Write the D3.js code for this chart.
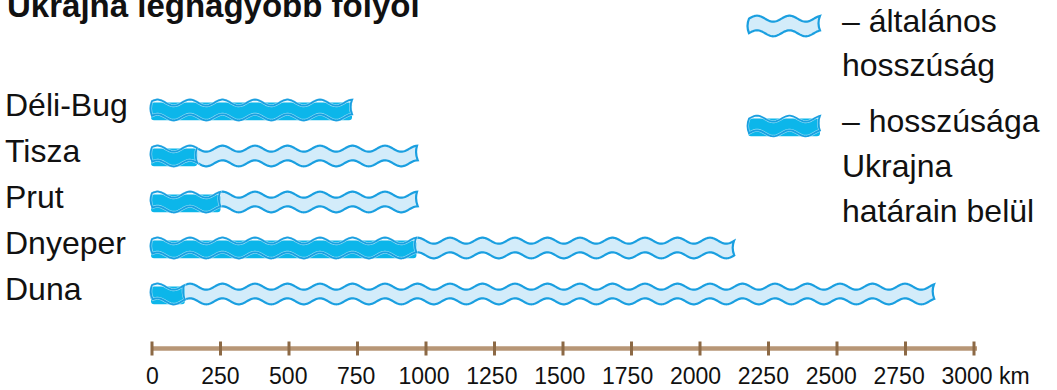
<!DOCTYPE html>
<html><head><meta charset="utf-8">
<script src="https://cdn.jsdelivr.net/npm/d3@7"></script>
<style>
body{margin:0;background:#fff;}
text{font-family:"Liberation Sans",Arial,sans-serif;fill:#111;}
</style></head>
<body>
<svg id="c" width="1057" height="390"></svg>
<script>
const title = "Ukrajna legnagyobb folyói";
const rivers = ["Déli-Bug", "Tisza", "Prut", "Dnyeper", "Duna"];
const totalKm = [730, 970, 970, 2125, 2855];
const ukraineKm = [730, 165, 250, 965, 120];
const tickValues = [0, 250, 500, 750, 1000, 1250, 1500, 1750, 2000, 2250, 2500, 2750, 3000];
const unitLabel = "km";
const legendTotal = ["– általános", "hosszúság"];
const legendUkraine = ["– hosszúsága", "Ukrajna", "határain belül"];

const LIGHT = "#d3ecfa", DARK = "#0cb6ea", LINE = "#1a9fe0";
const svg = d3.select("#c");

const x = d3.scaleLinear().domain([0, 3000]).range([152, 974]);
const xl = d3.scaleLinear().domain([0, 3000]).range([152.5, 967]);
const y = d3.scalePoint().domain(rivers).range([110, 294]);

const H = 7.3, A = 3, P = 32.5;

function topY(px, c, crest) { return c - H - A * Math.cos(2 * Math.PI * (px - crest) / P); }
function botY(px, c, crest) { return c + H - A * Math.cos(2 * Math.PI * (px - crest) / P); }

function ribbon(x0, x1, c, crest) {
  const p = d3.path();
  p.moveTo(x0, topY(x0, c, crest));
  for (let px = x0 + 1; px <= x1; px += 1) p.lineTo(px, topY(px, c, crest));
  const tr = topY(x1, c, crest), br = botY(x1, c, crest);
  p.quadraticCurveTo(x1 - 3, (tr + br) / 2, x1, br);
  for (let px = x1 - 1; px >= x0; px -= 1) p.lineTo(px, botY(px, c, crest));
  const tl = topY(x0, c, crest), bl = botY(x0, c, crest);
  p.quadraticCurveTo(x0 - 3, (tl + bl) / 2, x0, tl);
  p.closePath();
  return p.toString();
}

function drawLight(g, x0, x1, c, crest) {
  g.append("path").attr("d", ribbon(x0, x1, c, crest))
    .attr("fill", LIGHT).attr("stroke", LINE).attr("stroke-width", 2.2);
}
function drawDark(g, x0, x1, c, crest) {
  const d = ribbon(x0, x1, c, crest);
  g.append("path").attr("d", d).attr("fill", "#eef8fd").attr("stroke", "none");
  g.append("rect").attr("x", x0 - 1).attr("y", c - H - A * 0.1)
    .attr("width", x1 - x0 + 1).attr("height", 2 * H + A * 1.1)
    .attr("rx", 3).attr("fill", DARK);
  g.append("path").attr("d", d).attr("fill", "none").attr("stroke", "#ffffff").attr("stroke-width", 3).attr("opacity", 0.55);
  g.append("path").attr("d", d).attr("fill", "none").attr("stroke", LINE).attr("stroke-width", 1.8);
}

// title
svg.append("text").attr("x", 7).attr("y", 17).attr("font-size", 33).attr("font-weight", "bold").text(title);

// rows
rivers.forEach((r, i) => {
  const c = y(r);
  const g = svg.append("g");
  const crest = x(0) + 5.5;
  drawLight(g, x(0), x(totalKm[i]), c, crest);
  drawDark(g, x(0), x(ukraineKm[i]), c, crest);
  svg.append("text").attr("x", 5).attr("y", c + 6).attr("font-size", 32).text(r);
});

// axis
const axisY = 348.5;
svg.append("line").attr("x1", x(0)).attr("x2", x(3000) + 3).attr("y1", axisY).attr("y2", axisY)
  .attr("stroke", "#b79676").attr("stroke-width", 4.5);
svg.selectAll("rect.tick").data(tickValues).join("rect").attr("class", "tick")
  .attr("x", d => x(d) - 1.5).attr("y", axisY - 7).attr("width", 3).attr("height", 14)
  .attr("fill", "#8c6945");
svg.selectAll("text.tl").data(tickValues).join("text").attr("class", "tl")
  .attr("x", d => xl(d)).attr("y", 384).attr("text-anchor", "middle").attr("font-size", 23)
  .text(d => d);
svg.append("text").attr("x", xl(3000) + 32).attr("y", 384).attr("font-size", 23).text(unitLabel);

// legend
const lg = svg.append("g");
drawLight(lg, 749, 820, 26, 757);
drawDark(lg, 749, 820, 126, 757);
legendTotal.forEach((t, i) => lg.append("text").attr("x", 842).attr("y", 32 + i * 44).attr("font-size", 32).text(t));
legendUkraine.forEach((t, i) => lg.append("text").attr("x", 842).attr("y", 132 + i * 45).attr("font-size", 32).text(t));
</script>
</body></html>
